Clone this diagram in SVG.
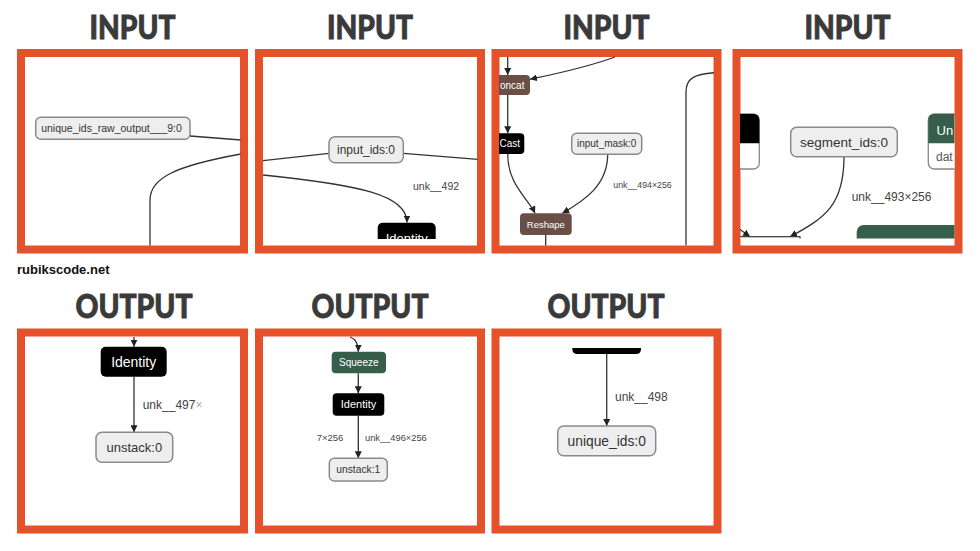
<svg xmlns="http://www.w3.org/2000/svg" width="980" height="551" viewBox="0 0 980 551">
<style>
.frame{fill:#fff;stroke:#e4512a;stroke-width:8}
.title{font-family:Lato,"Liberation Sans",sans-serif;font-weight:900;font-size:33px;fill:#3a3a3a;stroke:#3a3a3a;stroke-width:0.9;text-anchor:middle}
.lbl{font-family:"Liberation Sans",Arial,sans-serif;fill:#444}
.ntxt{font-family:"Liberation Sans",Arial,sans-serif;text-anchor:middle}
.io{fill:#eeeeee;stroke:#8a8a8a;stroke-width:1.5}
.blk{fill:#000}
.brn{fill:#6b4e45}
.grn{fill:#365e4b}
.edge{fill:none;stroke:#333;stroke-width:1.3}
.arr{marker-end:url(#ah)}
</style>
<defs>
<marker id="ah" markerWidth="7" markerHeight="7" refX="7" refY="3.5" orient="auto" markerUnits="userSpaceOnUse"><path d="M0,0 L7,3.5 L0,7 z" fill="#222"/></marker>
<clipPath id="c1"><rect x="25" y="57" width="215.5" height="188.5"/></clipPath>
<clipPath id="c2"><rect x="263" y="57" width="214.5" height="182"/></clipPath>
<clipPath id="c3"><rect x="499" y="57" width="215" height="188.5"/></clipPath>
<clipPath id="c4"><rect x="740" y="57" width="214.5" height="181.5"/></clipPath>
<clipPath id="c5"><rect x="25" y="336.5" width="215.5" height="189"/></clipPath>
<clipPath id="c6"><rect x="263" y="336.5" width="214.5" height="189"/></clipPath>
<clipPath id="c7"><rect x="499" y="336.5" width="215" height="189"/></clipPath>
</defs>
<rect width="980" height="551" fill="#fff"/>

<g id="titles">
<text class="title" x="132.5" y="39" textLength="86" lengthAdjust="spacingAndGlyphs">INPUT</text>
<text class="title" x="370" y="39" textLength="86" lengthAdjust="spacingAndGlyphs">INPUT</text>
<text class="title" x="606.5" y="39" textLength="86" lengthAdjust="spacingAndGlyphs">INPUT</text>
<text class="title" x="847.5" y="39" textLength="86" lengthAdjust="spacingAndGlyphs">INPUT</text>
<text class="title" x="134" y="318" textLength="117" lengthAdjust="spacingAndGlyphs">OUTPUT</text>
<text class="title" x="370" y="318" textLength="117" lengthAdjust="spacingAndGlyphs">OUTPUT</text>
<text class="title" x="606" y="318" textLength="117" lengthAdjust="spacingAndGlyphs">OUTPUT</text>
<text x="17" y="274" font-family="'Liberation Sans',Arial,sans-serif" font-weight="bold" font-size="13" fill="#111">rubikscode.net</text>
</g>

<g id="frames">
<rect class="frame" x="21" y="53" width="223" height="196.5"/>
<rect class="frame" x="259" y="53" width="222" height="196.5"/>
<rect class="frame" x="495.5" y="53" width="222" height="196.5"/>
<rect class="frame" x="736.5" y="53" width="222" height="196.5"/>
<rect class="frame" x="21" y="332.5" width="223" height="197"/>
<rect class="frame" x="259" y="332.5" width="222" height="197"/>
<rect class="frame" x="495.5" y="332.5" width="222" height="197"/>
</g>

<g id="connectors">
<path class="edge" clip-path="url(#c1)" d="M190,136 L241,140"/>
<path class="edge" clip-path="url(#c1)" d="M241,154 C175,166 150,178 150,200 L150,246"/>
<path class="edge" clip-path="url(#c2)" d="M263,160.7 L329,153.3"/>
<path class="edge" clip-path="url(#c2)" d="M403.3,153.3 L478,159.3"/>
<path class="edge arr" d="M263,175 C360,185 407,195 407,222.5"/>
<path class="edge arr" d="M507.7,57 L507.7,75"/>
<path class="edge arr" d="M615,57 C585,68 555,74 530,79.3"/>
<path class="edge arr" d="M507.7,95 L507.7,133.3"/>
<path class="edge arr" d="M507.7,154 C507.7,185 528,198 535,213.3"/>
<path class="edge arr" d="M607.7,154.3 C607.7,185 585,200 562.3,213.3"/>
<path class="edge" d="M545.7,235 L545.7,245.5"/>
<path class="edge" clip-path="url(#c3)" d="M714.5,72.7 C695,74 686,78 686,92 L686,245.5"/>
<path class="edge arr" d="M844,156.7 C844,205 825,218 790,236.7"/>
<path class="edge arr" clip-path="url(#c4)" d="M738,228 L750,236.7"/>
<path class="edge arr" d="M134,337 L134,346.7"/>
<path class="edge arr" d="M134,376.7 L134,432.3"/>
<path class="edge arr" d="M350,337 C356,339 358.3,344 358.3,351.7"/>
<path class="edge arr" d="M358.3,373.3 L358.3,393.3"/>
<path class="edge arr" d="M358.3,415.7 L358.3,458.3"/>
<path class="edge arr" d="M606.7,354 L606.7,426"/>
</g>

<g id="unique_ids_raw_output_node">
<rect class="io" x="35.7" y="117.3" width="154.3" height="22" rx="5"/>
<text class="ntxt" x="111.5" y="132" font-size="10.5" fill="#333">unique_ids_raw_output___9:0</text>
</g>

<g id="input_ids_node">
<rect class="io" x="329" y="136.7" width="74.3" height="26" rx="6"/>
<text class="ntxt" x="366" y="154" font-size="12" fill="#333">input_ids:0</text>
</g>
<g id="label_unk_492"><text class="lbl" x="413" y="190.4" font-size="10.5">unk__492</text></g>
<g id="identity_top_node" clip-path="url(#c2)">
<rect class="blk" x="377.7" y="222.7" width="58" height="30" rx="5"/>
<text class="ntxt" x="406.7" y="243" font-size="13" fill="#fff">Identity</text>
</g>

<g id="concat_node" clip-path="url(#c3)">
<rect class="brn" x="480" y="75" width="50" height="20" rx="4"/>
<text class="lbl" x="500" y="88.6" font-size="10" style="fill:#fff">oncat</text>
</g>
<g id="cast_node" clip-path="url(#c3)">
<rect class="blk" x="480" y="133.3" width="44.3" height="20.7" rx="4"/>
<text class="lbl" x="499.5" y="147.3" font-size="10" style="fill:#fff">Cast</text>
</g>
<g id="input_mask_node">
<rect class="io" x="571.7" y="133.3" width="70" height="21" rx="5"/>
<text class="ntxt" x="606.7" y="147.3" font-size="10" fill="#333">input_mask:0</text>
</g>
<g id="label_unk_494"><text class="lbl" x="613.3" y="187.5" font-size="8.8">unk__494×256</text></g>
<g id="reshape_node">
<rect class="brn" x="520" y="213.3" width="51.7" height="21.7" rx="4"/>
<text class="ntxt" x="545.8" y="227.6" font-size="9.5" fill="#fff">Reshape</text>
</g>

<g id="left_clipped_node" clip-path="url(#c4)">
<rect x="700" y="114" width="59.3" height="55" rx="6" fill="#fff" stroke="#888" stroke-width="1.3"/>
<path d="M700,143.3 L700,120 Q700,114 706,114 L753.3,114 Q759.3,114 759.3,120 L759.3,143.3 Z" fill="#000"/>
</g>
<g id="segment_ids_node">
<rect class="io" x="790.7" y="127.3" width="106.6" height="29.4" rx="6"/>
<text class="ntxt" x="844" y="146.7" font-size="13.5" fill="#333">segment_ids:0</text>
</g>
<g id="label_unk_493"><text class="lbl" x="851.7" y="201" font-size="12">unk__493×256</text></g>
<g id="right_clipped_node" clip-path="url(#c4)">
<rect x="928.3" y="114" width="60" height="55" rx="6" fill="#fff" stroke="#888" stroke-width="1.3"/>
<path d="M928.3,143.3 L928.3,120 Q928.3,114 934.3,114 L988.3,114 L988.3,143.3 Z" fill="#365e4b"/>
<text class="lbl" x="936.5" y="135" font-size="13" style="fill:#fff">Un</text>
<text class="lbl" x="936" y="161" font-size="12" style="fill:#555">dat</text>
</g>
<g id="bottom_left_node" clip-path="url(#c4)">
<rect x="700" y="236.7" width="100" height="20" fill="#fff" stroke="#333" stroke-width="1.2"/>
</g>
<g id="bottom_green_node" clip-path="url(#c4)">
<rect class="grn" x="856.7" y="225" width="120" height="30" rx="7"/>
</g>

<g id="identity_out0_node">
<rect class="blk" x="100.7" y="346.7" width="66" height="30" rx="5"/>
<text class="ntxt" x="133.7" y="366.5" font-size="14" fill="#fff">Identity</text>
</g>
<g id="label_unk_497"><text class="lbl" x="142.7" y="409" font-size="12">unk__497<tspan fill="#aaa">×</tspan></text></g>
<g id="unstack0_node">
<rect class="io" x="96" y="432.3" width="76.7" height="30" rx="6"/>
<text class="ntxt" x="134.3" y="451.8" font-size="13" fill="#333">unstack:0</text>
</g>

<g id="squeeze_node">
<rect class="grn" x="331.7" y="351.7" width="54.3" height="21.6" rx="4"/>
<text class="ntxt" x="358.8" y="366" font-size="10" fill="#fff">Squeeze</text>
</g>
<g id="identity_out1_node">
<rect class="blk" x="332.7" y="393.3" width="51.6" height="22.4" rx="4"/>
<text class="ntxt" x="358.5" y="408.3" font-size="11" fill="#fff">Identity</text>
</g>
<g id="label_7x256"><text class="lbl" x="316.7" y="440.6" font-size="9.5">7×256</text></g>
<g id="label_unk_496"><text class="lbl" x="365" y="440.6" font-size="9.3">unk__496×256</text></g>
<g id="unstack1_node">
<rect class="io" x="329.3" y="458.3" width="58" height="22.7" rx="5"/>
<text class="ntxt" x="358.3" y="473.3" font-size="10.3" fill="#333">unstack:1</text>
</g>

<g id="top_black_node" clip-path="url(#c7)">
<path d="M572.3,348 L641,348 L641,349 Q641,354 636,354 L577.3,354 Q572.3,354 572.3,349 Z" fill="#000"/>
</g>
<g id="label_unk_498"><text class="lbl" x="615" y="401" font-size="12">unk__498</text></g>
<g id="unique_ids_node">
<rect class="io" x="557.7" y="426" width="98" height="29.7" rx="6"/>
<text class="ntxt" x="606.7" y="445.6" font-size="13.8" fill="#333">unique_ids:0</text>
</g>
</svg>
